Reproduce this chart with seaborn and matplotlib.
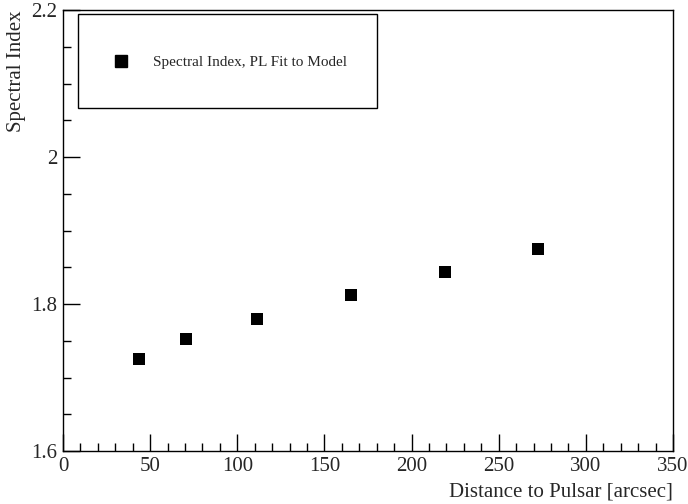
import matplotlib
matplotlib.use("Agg")
import matplotlib.pyplot as plt
import seaborn as sns
import pandas as pd
from matplotlib.patches import Rectangle
from matplotlib.lines import Line2D
from matplotlib.ticker import MultipleLocator

distance = [43.8, 70.6, 111.1, 165.2, 219.2, 272.5]
spectral_index = [1.725, 1.752, 1.779, 1.812, 1.844, 1.875]
series_label = "Spectral Index, PL Fit to Model"
x_ticks = [0, 50, 100, 150, 200, 250, 300, 350]
x_tick_labels = ["0", "50", "100", "150", "200", "250", "300", "350"]
y_ticks = [1.6, 1.8, 2.0, 2.2]
y_tick_labels = ["1.6", "1.8", "2", "2.2"]

df = pd.DataFrame({"Distance": distance, "Index": spectral_index})

sns.set_style("ticks")
plt.rcParams["font.family"] = ["Liberation Serif", "DejaVu Serif"]

W, H = 688, 504
fig = plt.figure(figsize=(W / 100, H / 100), dpi=100)
ax = fig.add_axes([63 / W, 1 - 451 / H, (673 - 63) / W, (451 - 10) / H])

sns.scatterplot(data=df, x="Distance", y="Index", marker="s", s=80,
                color="black", edgecolor="black", linewidth=0, ax=ax,
                legend=False)

ax.set_xlim(0, 350)
ax.set_ylim(1.6, 2.2)
ax.xaxis.set_minor_locator(MultipleLocator(10))
ax.yaxis.set_minor_locator(MultipleLocator(0.05))
ax.set_xticks(x_ticks)
ax.set_xticklabels(x_tick_labels)
ax.set_yticks(y_ticks)
ax.set_yticklabels(y_tick_labels)
ax.tick_params(which="both", direction="in", top=False, right=False, color="black")
ax.tick_params(which="major", length=12, width=1, labelsize=15, pad=4)
ax.tick_params(which="minor", length=6, width=1)
for sp in ax.spines.values():
    sp.set_color("black")
    sp.set_linewidth(1)

ax.set_xlabel("Distance to Pulsar [arcsec]", fontsize=15, loc="right", labelpad=5)
ax.set_ylabel("Spectral Index", fontsize=15, loc="top")
ax.yaxis.set_label_coords((26 - 63) / 610, 1.0)

# legend box
rect = Rectangle((78 / W, 1 - 108 / H), (377 - 78) / W, (108 - 14) / H,
                 transform=fig.transFigure, facecolor="white",
                 edgecolor="black", linewidth=1, zorder=5)
fig.patches.append(rect)
h = Line2D([], [], marker="s", color="black", linestyle="none", markersize=9)
leg = fig.legend([h], [series_label], loc="center left",
                 bbox_to_anchor=(100 / W, 1 - 62 / H), frameon=False,
                 fontsize=11, handletextpad=1.6, handlelength=1.0)
leg.set_zorder(6)

fig.savefig("out.png", dpi=100, facecolor="white")
